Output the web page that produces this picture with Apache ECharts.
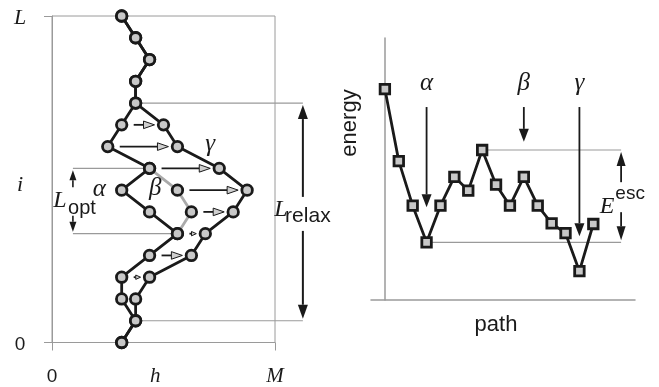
<!DOCTYPE html>
<html><head><meta charset="utf-8">
<script src="https://cdn.jsdelivr.net/npm/echarts@6/dist/echarts.min.js"></script>
<style>html,body{margin:0;padding:0;background:#fff}#c{width:659px;height:387px}</style>
</head><body><div id="c"></div>
<script>
// ---------- Left panel data: column index of each chain node, rows i = 0..15 ----------
const rows = [0,1,2,3,4,5,6,7,8,9,10,11,12,13,14,15];
const chainAlpha = [5,6,5,5,7,9,7,5,7,4,5,6,6,7,6,5];
const chainGamma = [5,6,6,7,10,11,13,14,12,9,8,6,6,7,6,5];
const betaRows = [5,6,7,8];
const chainBeta = [9,10,9,7];
// moves (arrows) from one conformation to the other
const moveRows = [10,9,8,7,6,5,4,3];
const moveFrom = [5,4,7,9,10,9,7,5];
const moveTo   = [8,9,12,14,13,11,10,7];
// axis labels of left panel
const leftXLabelValues = [0,7.4,16];
const leftXLabels = ['0','h','M'];
const leftYLabelValues = [0,7.35,15];
const leftYLabels = ['0','i','L'];
// annotation levels
const optRows = [8,5];       // L_opt span
const relaxRows = [11,1];    // L_relax span
// ---------- Right panel data ----------
const pathIndex = [0,1,2,3,4,5,6,7,8,9,10,11,12,13,14,15];
const energy = [16.1,10.6,7.2,4.4,7.2,9.4,8.35,11.45,8.8,7.2,9.4,7.2,5.85,5.1,2.2,5.8];
const minimaIdx = [3,10,14];
const minimaNames = ['\u03b1','\u03b2','\u03b3'];
const escFrom = [7,3];

const INK = '#1a1a1a', NODE = '#c8c8c8', GRAY = '#9a9a9a';
const SERIF = 'Liberation Serif', SANS = 'Liberation Sans';

const chart = echarts.init(document.getElementById('c'), null, {renderer:'canvas'});
const zip = (xs, ys) => xs.map((x,k)=>[x, ys[k]]);

const nodeStyle = {color: NODE, borderColor: INK, borderWidth: 2.8};

const option = {
  animation: false,
  backgroundColor: '#fff',
  grid: [
    {left: 52, top: 16, width: 223, height: 328, show: true, borderColor: GRAY, borderWidth: 1},
    {left: 371, top: 38, width: 264, height: 262}
  ],
  xAxis: [
    {gridIndex: 0, type: 'value', min: 0, max: 16, interval: 16,
     axisLine: {show: true, lineStyle: {color: GRAY, width: 1}},
     axisTick: {show: true, length: 8, lineStyle: {color: GRAY}, customValues: [0,16]},
     splitLine: {show: false},
     axisLabel: {show: true, margin: 34, verticalAlign: 'middle', customValues: leftXLabelValues,
       formatter: (v) => { const k = leftXLabelValues.indexOf(v); const t = leftXLabels[k]; return t === '0' ? '{s|' + t + '}' : '{it|' + t + '}'; },
       rich: {s: {fontFamily: SANS, fontSize: 19, color: INK}, it: {fontFamily: SERIF, fontStyle: 'italic', fontSize: 21, color: INK}}}},
    {gridIndex: 1, type: 'value', min: -1, max: 18,
     axisLine: {show: true, lineStyle: {color: GRAY, width: 1.5}},
     axisTick: {show: false}, axisLabel: {show: false}, splitLine: {show: false},
     name: 'path', nameLocation: 'middle', nameGap: 14,
     nameTextStyle: {fontFamily: SANS, fontSize: 22, color: INK, padding: [0, 14, 0, 0]}}
  ],
  yAxis: [
    {gridIndex: 0, type: 'value', min: 0, max: 15, interval: 15,
     axisLine: {show: true, lineStyle: {color: GRAY, width: 1}},
     axisTick: {show: true, length: 8, lineStyle: {color: GRAY}, customValues: [0,15]},
     splitLine: {show: false},
     axisLabel: {show: true, margin: 32, align: 'center', customValues: leftYLabelValues,
       formatter: (v) => { const k = leftYLabelValues.indexOf(v); const t = leftYLabels[k]; return t === '0' ? '{s|' + t + '}' : '{it|' + t + '}'; },
       rich: {s: {fontFamily: SANS, fontSize: 19, color: INK, padding: [5, 0, 0, 0]}, it: {fontFamily: SERIF, fontStyle: 'italic', fontSize: 22, color: INK, padding: [5, 0, 0, 0]}}}},
    {gridIndex: 1, type: 'value', min: 0, max: 20,
     axisLine: {show: true, lineStyle: {color: GRAY, width: 1.5}},
     axisTick: {show: false}, axisLabel: {show: false}, splitLine: {show: false},
     name: 'energy', nameLocation: 'middle', nameGap: 10,
     nameTextStyle: {fontFamily: SANS, fontSize: 22, color: INK, padding: [0, 0, 0, 92]}}
  ],
  series: [
    {type: 'line', name: 'beta', xAxisIndex: 0, yAxisIndex: 0, data: zip(chainBeta, betaRows),
     lineStyle: {color: '#aaaaaa', width: 2.8}, symbol: 'circle', symbolSize: 10.5, itemStyle: nodeStyle, z: 2},
    {type: 'line', name: 'alpha', xAxisIndex: 0, yAxisIndex: 0, data: zip(chainAlpha, rows),
     lineStyle: {color: INK, width: 2.8}, symbol: 'circle', symbolSize: 10.5, itemStyle: nodeStyle, z: 3},
    {type: 'line', name: 'gamma', xAxisIndex: 0, yAxisIndex: 0, data: zip(chainGamma, rows),
     lineStyle: {color: INK, width: 2.8}, symbol: 'circle', symbolSize: 10.5, itemStyle: nodeStyle, z: 3},
    {type: 'custom', name: 'moves', xAxisIndex: 0, yAxisIndex: 0,
     data: moveRows.map((r,k) => [moveFrom[k], moveTo[k], r]),
     encode: {x: [0,1], y: 2}, z: 4,
     renderItem: (params, api) => {
       const a = api.coord([api.value(0), api.value(2)]);
       const b = api.coord([api.value(1), api.value(2)]);
       const y = a[1], x1 = a[0] + 12, x2 = b[0] - 9;
       const len = x2 - x1;
       const hl = Math.min(11, len * 0.7), hh = Math.min(3.8, hl * 0.45);
       const ch = [];
       if (len - hl > 0.5) ch.push({type: 'line', shape: {x1: x1, y1: y, x2: x2 - hl, y2: y}, style: {stroke: INK, lineWidth: 1.8}});
       ch.push({type: 'polygon', shape: {points: [[x2, y], [x2 - hl, y - hh], [x2 - hl, y + hh]]}, style: {fill: '#cfcfcf', stroke: INK, lineWidth: 1}});
       return {type: 'group', children: ch};
     }},
    {type: 'line', name: 'energy', xAxisIndex: 1, yAxisIndex: 1, data: zip(pathIndex, energy),
     lineStyle: {color: INK, width: 2.8}, symbol: 'rect', symbolSize: 9.5, itemStyle: nodeStyle, z: 3}
  ]
};
chart.setOption(option);

// ---------- annotations positioned through the axes ----------
const G = [];
const P = (g, x, y) => chart.convertToPixel({gridIndex: g}, [x, y]);
function hline(x1, x2, y, color, w) { G.push({type: 'line', z: 1, shape: {x1: x1, y1: y, x2: x2, y2: y}, style: {stroke: color, lineWidth: w}}); }
function varrow(x, yFrom, yTip, hl, hh, w) {
  const d = Math.sign(yTip - yFrom);
  G.push({type: 'line', z: 10, shape: {x1: x, y1: yFrom, x2: x, y2: yTip - d * hl}, style: {stroke: INK, lineWidth: w}});
  G.push({type: 'polygon', z: 10, shape: {points: [[x, yTip], [x - hh, yTip - d * hl], [x + hh, yTip - d * hl]]}, style: {fill: INK}});
}
function txt(x, y, text, font, size, italic) {
  G.push({type: 'text', z: 10, x: x, y: y, style: {text: text, fontFamily: font, fontSize: size, fontStyle: italic ? 'italic' : 'normal', fill: INK, align: 'center', verticalAlign: 'middle'}});
}
// L_opt
{
  const top = P(0, 1.5, optRows[0]), bot = P(0, 1.5, optRows[1]);
  const nTop = P(0, chainAlpha[optRows[0]], optRows[0]), nBot = P(0, chainAlpha[optRows[1]], optRows[1]);
  hline(top[0], nTop[0], top[1], GRAY, 1.2);
  hline(bot[0], nBot[0], bot[1], GRAY, 1.2);
  varrow(top[0], top[1] + 19, top[1] + 2, 10, 3.5, 1.6);
  varrow(bot[0], bot[1] - 18, bot[1] - 2, 10, 3.5, 1.6);
  const mid = (top[1] + bot[1]) / 2;
  txt(top[0] - 13, mid, 'L', SERIF, 24, true);
  txt(top[0] + 9, mid + 7, 'opt', SANS, 20, false);
}
// L_relax
{
  const top = P(0, 18, relaxRows[0]), bot = P(0, 18, relaxRows[1]);
  const nTop = P(0, chainAlpha[relaxRows[0]], relaxRows[0]), nBot = P(0, chainAlpha[relaxRows[1]], relaxRows[1]);
  hline(nTop[0], top[0], top[1], GRAY, 1.2);
  hline(nBot[0], bot[0], bot[1], GRAY, 1.2);
  const mid = (top[1] + bot[1]) / 2;
  varrow(top[0], mid - 15, top[1] + 2, 14, 5, 2);
  varrow(bot[0], mid + 19, bot[1] - 2, 14, 5, 2);
  txt(top[0] - 22, mid - 2, 'L', SERIF, 24, true);
  txt(top[0] + 5, mid + 4, 'relax', SANS, 21, false);
}
// chain labels
{
  const a = P(0, 3.4, 7), b = P(0, 7.4, 7), g = P(0, 11.35, 9);
  txt(a[0], a[1] - 1, '\u03b1', SERIF, 25, true);
  txt(b[0], b[1] - 2, '\u03b2', SERIF, 25, true);
  txt(g[0], g[1] - 2, '\u03b3', SERIF, 25, true);
}
// right panel minima arrows
minimaIdx.forEach((k, j) => {
  const p = P(1, k, energy[k]);
  const s = P(1, k, 14.73);
  const l = P(1, k, 16.56);
  varrow(p[0], s[1], p[1] - 35, 13, 5, 1.8);
  txt(l[0], l[1], minimaNames[j], SERIF, 25, true);
});
// E_esc
{
  const hi = P(1, escFrom[0], energy[escFrom[0]]), lo = P(1, escFrom[1], energy[escFrom[1]]);
  const xe = P(1, 17, 0)[0];
  hline(hi[0], xe, hi[1], GRAY, 1.2);
  hline(lo[0], xe, lo[1], GRAY, 1.2);
  const mid = (hi[1] + lo[1]) / 2;
  varrow(xe, mid - 14, hi[1] + 2, 14, 4.5, 1.8);
  varrow(xe, mid + 16, lo[1] - 2, 14, 4.5, 1.8);
  txt(xe - 14, mid + 11, 'E', SERIF, 24, true);
  txt(xe + 9, mid - 2, 'esc', SANS, 19, false);
}
chart.setOption({graphic: {elements: G}});
</script></body></html>
